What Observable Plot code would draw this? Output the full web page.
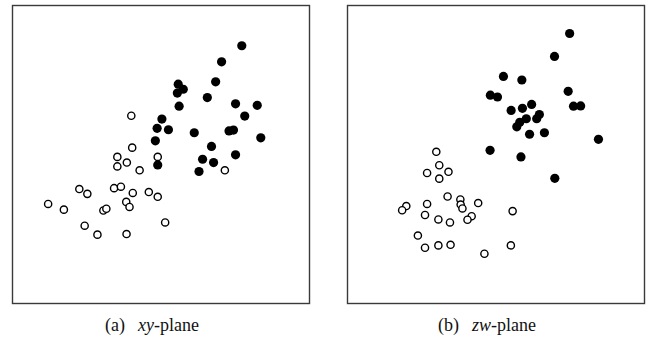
<!DOCTYPE html>
<html>
<head>
<meta charset="utf-8">
<script src="https://cdn.jsdelivr.net/npm/d3@7"></script>
<script src="https://cdn.jsdelivr.net/npm/@observablehq/plot@0.6"></script>
<style>
  html, body { margin: 0; padding: 0; background: #fff; }
  #wrap { position: relative; width: 647px; height: 337px; overflow: hidden; }
  .panel { position: absolute; top: 0; }
  .cap { position: absolute; top: 316px; font-family: "Liberation Serif", "Times New Roman", serif; font-size: 18px; line-height: 18px; color: #111; white-space: nowrap; }
  .cap i { margin-left: 13px; }
</style>
</head>
<body>
<div id="wrap">
  <div id="pa" class="panel" style="left:0px"></div>
  <div id="pb" class="panel" style="left:335px"></div>
  <div class="cap" style="left:105px">(a)<i>xy</i>-plane</div>
  <div class="cap" style="left:438px">(b)<i>zw</i>-plane</div>
</div>
<script>
// Panel (a): xy-plane — frame spans 0..100 on both axes
const xyFilledX = [77.2, 70.4, 68.4, 55.8, 57.5, 55.5, 65.6, 56.1, 75.1, 82.4, 78.2, 50.3, 48.7, 52.5, 61.2, 72.9, 74.4, 83.6, 48.1, 67.0, 75.1, 64.0, 67.7, 48.9, 62.8];
const xyFilledY = [86.5, 81.1, 74.4, 73.6, 71.9, 70.6, 69.1, 66.2, 67.0, 66.5, 62.9, 61.9, 58.8, 58.3, 57.3, 57.9, 58.2, 55.6, 54.6, 52.7, 49.9, 48.4, 47.3, 46.5, 44.3];
const xyOpenX = [40.0, 40.3, 35.3, 38.5, 35.3, 48.9, 42.8, 71.5, 22.5, 25.2, 34.2, 36.5, 40.5, 45.9, 48.9, 12.0, 17.3, 30.6, 31.6, 38.3, 39.4, 51.4, 24.3, 28.6, 38.4];
const xyOpenY = [63.0, 52.3, 49.2, 47.3, 46.0, 49.2, 44.7, 44.7, 38.4, 36.8, 38.7, 39.2, 37.1, 37.4, 35.8, 33.4, 31.5, 31.2, 31.8, 34.1, 32.4, 27.2, 26.1, 23.1, 23.3];

// Panel (b): zw-plane
const zwFilledZ = [74.8, 69.7, 52.5, 58.7, 48.1, 50.5, 74.3, 76.1, 78.5, 55.1, 58.9, 62.0, 64.6, 63.7, 60.2, 58.0, 57.0, 61.3, 66.3, 84.5, 48.0, 58.4, 69.8];
const zwFilledW = [90.6, 82.9, 76.2, 75.0, 69.9, 69.3, 71.2, 66.2, 66.3, 64.8, 65.5, 66.8, 63.4, 62.0, 62.0, 60.8, 59.3, 56.8, 57.3, 55.1, 51.4, 49.2, 42.0];
const zwOpenZ = [29.9, 30.9, 26.8, 34.0, 30.9, 33.7, 38.0, 38.1, 38.7, 44.0, 26.8, 19.8, 18.4, 26.1, 30.6, 34.5, 41.8, 40.4, 55.6, 23.7, 26.1, 30.6, 34.7, 46.1, 55.0];
const zwOpenW = [50.9, 46.4, 43.8, 44.2, 41.9, 35.9, 34.9, 33.2, 31.9, 33.7, 33.4, 32.7, 31.3, 29.7, 28.2, 27.2, 29.3, 28.1, 31.0, 22.8, 18.7, 19.5, 19.7, 16.7, 19.5];

const zip = (a, b) => a.map((v, i) => ({x: v, y: b[i]}));

function panel(filled, open, width, marginRight) {
  return Plot.plot({
    width: width,
    height: 305,
    marginLeft: 12,
    marginRight: marginRight,
    marginTop: 5,
    marginBottom: 2,
    x: {domain: [0, 100], axis: null},
    y: {domain: [0, 100], axis: null},
    style: {background: "white"},
    marks: [
      Plot.frame({stroke: "#3a3a3a", strokeWidth: 1.4}),
      Plot.dot(open, {x: "x", y: "y", r: 3.6, stroke: "black", strokeWidth: 1.4, fill: "white"}),
      Plot.dot(filled, {x: "x", y: "y", r: 4.6, fill: "black", stroke: "none"})
    ]
  });
}

document.getElementById("pa").append(panel(zip(xyFilledX, xyFilledY), zip(xyOpenX, xyOpenY), 321, 12));
document.getElementById("pb").append(panel(zip(zwFilledZ, zwFilledW), zip(zwOpenZ, zwOpenW), 312, 3));
</script>
</body>
</html>
